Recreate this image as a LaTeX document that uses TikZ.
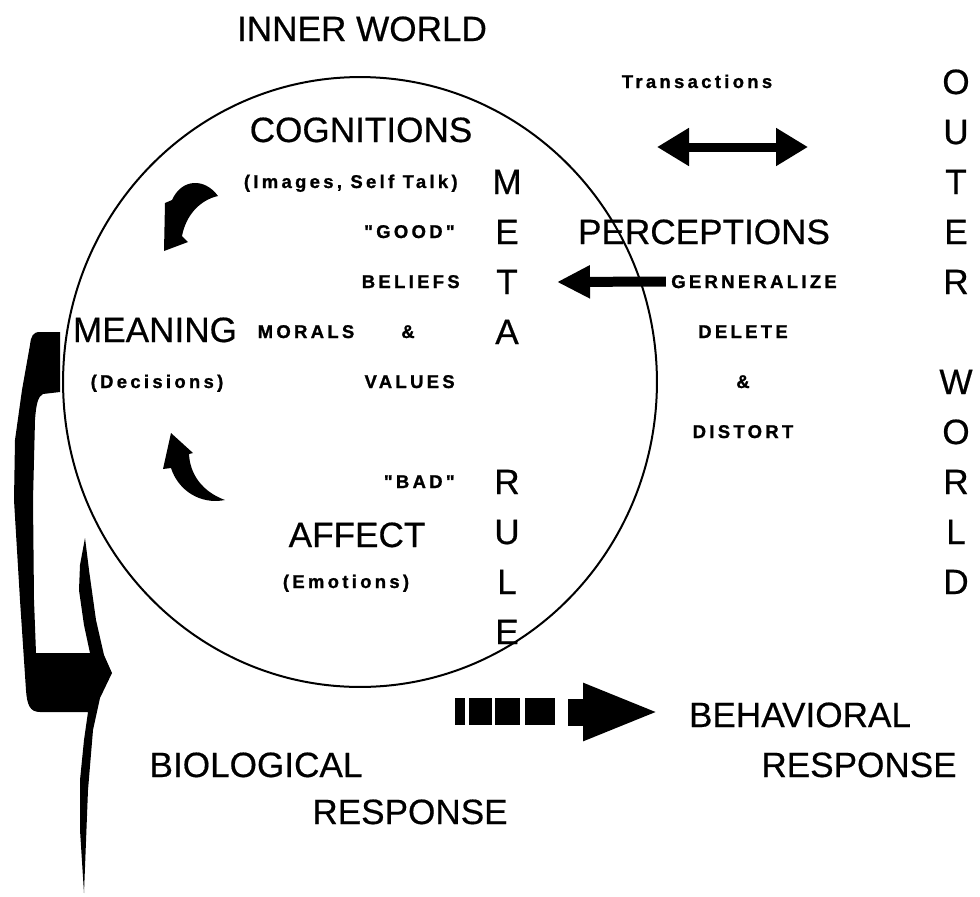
\documentclass[tikz,border=0pt]{standalone}
\usepackage{fontspec}
\setmainfont{Liberation Sans}
\newfontfamily\bigfont[FakeBold=0.5]{Liberation Sans}
\newfontfamily\heavyfont[LetterSpace=18, FakeBold=1.2]{Liberation Sans Bold}
\usetikzlibrary{arrows.meta, shapes.geometric}

\tikzset{
  bigword/.style={font=\bigfont\fontsize{20}{24}\selectfont, inner sep=0pt, anchor=base},
  smallword/.style={font=\heavyfont\fontsize{10.5}{12}\selectfont, inner sep=0pt, anchor=base},
}

\begin{document}
\begin{tikzpicture}[x=0.02cm, y=-0.02cm]
  \useasboundingbox (0,0) rectangle (980,896);

  % the mind
  \node (mind) [draw, ellipse, line width=0.04cm, minimum width=11.88cm, minimum height=12.2cm, inner sep=0pt] at (360,382) {};

  \node (inner) at (362,41) [bigword] {INNER WORLD};
  \node (cogn) at (361,142) [bigword] {COGNITIONS};
  \node (meaning) at (155,342) [bigword] {MEANING};
  \node (affect) at (357,547) [bigword] {AFFECT};
  \node (percep) at (704,244) [bigword] {PERCEPTIONS};
  \node (behav) at (800,727) [bigword] {BEHAVIORAL};
  \node (respright) at (859,777) [bigword] {RESPONSE};
  \node (bio) at (256,777) [bigword] {BIOLOGICAL};
  \node (respbottom) at (410,824) [bigword] {RESPONSE};

  % metarule
  \node (meta1) at (507,194) [bigword] {M};
  \node (meta2) at (507,244) [bigword] {E};
  \node (meta3) at (507,294) [bigword] {T};
  \node (meta4) at (507,344) [bigword] {A};
  \node (meta5) at (507,494) [bigword] {R};
  \node (meta6) at (507,544) [bigword] {U};
  \node (meta7) at (507,594) [bigword] {L};
  \node (meta8) at (507,644) [bigword] {E};

  % outer world
  \node (outer1) at (956,94) [bigword] {O};
  \node (outer2) at (956,144) [bigword] {U};
  \node (outer3) at (956,194) [bigword] {T};
  \node (outer4) at (956,244) [bigword] {E};
  \node (outer5) at (956,294) [bigword] {R};
  \node (world1) at (956,394) [bigword] {W};
  \node (world2) at (956,444) [bigword] {O};
  \node (world3) at (956,494) [bigword] {R};
  \node (world4) at (956,544) [bigword] {L};
  \node (world5) at (956,594) [bigword] {D};

  \node (trans) at (697,88) [smallword] {Transactions};
  \node (images) at (458,188) [smallword, anchor=base east] {(Images, Self Talk)};
  \node (good) at (455,238) [smallword, anchor=base east] {"GOOD"};
  \node (beliefs) at (460,288) [smallword, anchor=base east] {BELIEFS};
  \node (morals) at (306,338) [smallword] {MORALS};
  \node (and1) at (408,338) [smallword] {\&};
  \node (values) at (455,388) [smallword, anchor=base east] {VALUES};
  \node (bad) at (455,488) [smallword, anchor=base east] {"BAD"};
  \node (decis) at (157,388) [smallword] {(Decisions)};
  \node (emot) at (346,588) [smallword] {(Emotions)};
  \node (gener) at (754,288) [smallword] {GERNERALIZE};
  \node (delete) at (743,338) [smallword] {DELETE};
  \node (and2) at (743,388) [smallword] {\&};
  \node (distort) at (743,438) [smallword] {DISTORT};

  % arrows
  \coordinate (transl) at (657,147);
  \coordinate (transr) at (808,147);
  \draw [line width=0.18cm, {Triangle[length=0.64cm, width=0.72cm]}-{Triangle[length=0.64cm, width=0.72cm]}] (transl) -- (transr);
  \coordinate (genhead) at (557,282);
  \draw [line width=0.2cm, -{Triangle[length=0.66cm, width=0.62cm]}] ([xshift=-0.1cm, yshift=0.13cm]gener.base west) -- (genhead |- 0,282);
  \foreach \a/\b in {455/465, 469/492, 495/520, 525/555}
    \fill (\a,698) rectangle (\b,725);
  \coordinate (behtail) at (568,712);
  \coordinate (behhead) at (660,712);
  \draw [line width=0.54cm, -{Triangle[length=1.54cm, width=1.04cm]}] (behtail) -- (behhead);

  % curved arrows
  \fill (218,196) .. controls (205,178) and (182,178) .. (172,200) -- (165,203) -- (164,251) -- (188,242) -- (182,236) .. controls (186,215) and (200,200) .. (218,196) -- cycle;
  \fill (171,433) -- (193,453) -- (189,454) .. controls (190,475) and (203,492) .. (225,500) .. controls (200,505) and (178,490) .. (171,468) -- (163,469) -- cycle;

  % bracket
  \fill (30,345) .. controls (31,336) and (33,332) .. (40,332) -- (60,332) -- (60,392) -- (43,394)
    .. controls (38,396) and (36,405) .. (35,420) -- (33,500) -- (34,600) -- (36,653) -- (90,653)
    -- (84,625) -- (79,590) -- (80,565) -- (85,538) -- (89,570) -- (96,620) -- (104,655) -- (112,673)
    -- (100,698) -- (93,730) -- (88,790) -- (84,893) -- (80,830) -- (80,780) -- (84,740) -- (88,712)
    -- (40,712) .. controls (30,712) and (27,705) .. (26,690) -- (20,600) -- (14,500) -- (15,440) -- (22,390) -- cycle;
\end{tikzpicture}
\end{document}
